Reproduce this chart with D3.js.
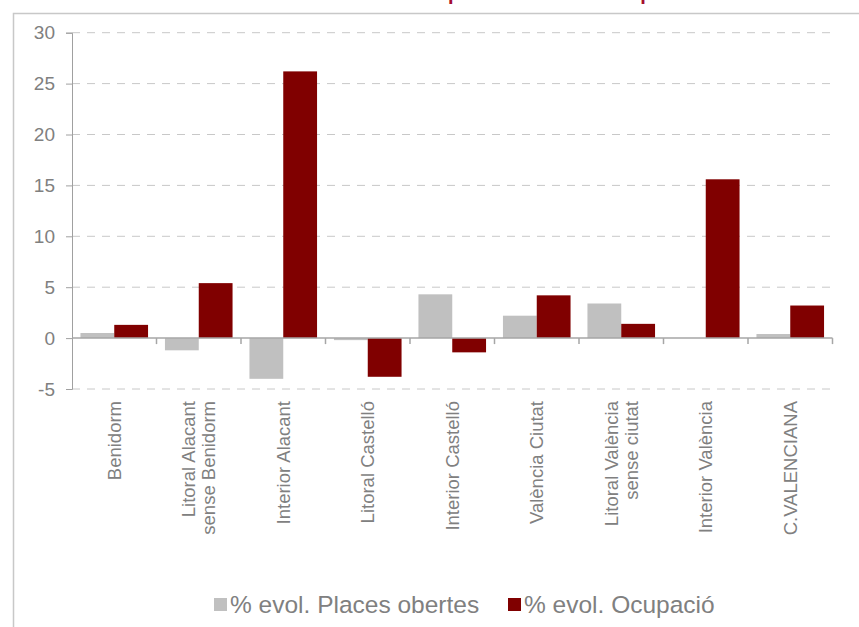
<!DOCTYPE html>
<html>
<head>
<meta charset="utf-8">
<script src="https://cdn.jsdelivr.net/npm/d3@7"></script>
<style>
  body { margin: 0; background: #fff; }
  svg { display: block; font-family: "Liberation Sans", Arial, sans-serif; }
</style>
</head>
<body>
<div id="chart"></div>
<script>
let categories = [
  ["Benidorm"],
  ["Litoral Alacant", "sense Benidorm"],
  ["Interior Alacant"],
  ["Litoral Castelló"],
  ["Interior Castelló"],
  ["València Ciutat"],
  ["Litoral València", "sense ciutat"],
  ["Interior València"],
  ["C.VALENCIANA"]
]
let places = [0.5, -1.2, -4.0, -0.2, 4.3, 2.2, 3.4, 0.0, 0.4]
let ocupacio = [1.3, 5.4, 26.2, -3.8, -1.4, 4.2, 1.4, 15.6, 3.2]
let yTicks = [-5, 0, 5, 10, 15, 20, 25, 30]
let seriesNames = ["% evol. Places obertes", "% evol. Ocupació"]
let seriesColors = ["#c0c0c0", "#800000"]
let titleText = "Evolució places obertes i ocupació"

const width = 859, height = 627
const plotLeft = 72, plotRight = 832.5, plotTop = 32.7, plotBottom = 389

let svg = d3.select('#chart')
  .append('svg')
    .attr('width', width)
    .attr('height', height)

// frame
svg.append('rect')
  .attr('x', 13.5).attr('y', 13.5)
  .attr('width', 900).attr('height', 700)
  .attr('fill', 'none')
  .attr('stroke', '#c8c8c8')
  .attr('stroke-width', 1.5)

// title, cut off above the frame like in the source image
let title = svg.append('text')
  .attr('x', 0).attr('y', -0.5)
  .attr('fill', '#a50f2d')
  .style('font-size', '20px')
  .style('font-weight', 'bold')
  .text(titleText)
let pIdx = titleText.indexOf('places')
let pX = title.node().getStartPositionOfChar(pIdx).x
title.attr('x', 448 - pX)

let keys = categories.map(d => d.join(' '))

let x = d3.scaleBand()
  .domain(keys)
  .range([plotLeft, plotRight])

let xInner = d3.scaleBand()
  .domain([0, 1])
  .range([0, x.bandwidth()])
  .paddingOuter(0.25)

let y = d3.scaleLinear()
  .domain([-5, 30])
  .range([plotBottom, plotTop])

// gridlines
svg.append('g')
  .selectAll('line')
  .data(yTicks.filter(d => d !== 0))
  .enter()
  .append('line')
    .attr('x1', plotLeft).attr('x2', plotRight)
    .attr('y1', d => y(d)).attr('y2', d => y(d))
    .attr('stroke', '#c8c8c8')
    .attr('stroke-dasharray', '8,7')

// y axis
let yAxis = svg.append('g')
  .attr('transform', `translate(${plotLeft},0)`)
  .call(d3.axisLeft(y).tickValues(yTicks).tickSize(6).tickPadding(11).tickFormat(d => String(d)))
yAxis.select('.domain').attr('stroke', '#a0a0a0')
yAxis.selectAll('.tick line').attr('stroke', '#a0a0a0')
yAxis.selectAll('.tick text')
  .attr('fill', '#808080')
  .style('font-size', '19px')
  .style('font-family', '"Liberation Sans", Arial, sans-serif')

// bars
let rows = keys.map((k, i) => ({ key: k, values: [places[i], ocupacio[i]] }))
let groups = svg.append('g')
  .selectAll('g')
  .data(rows)
  .enter()
  .append('g')
    .attr('transform', d => `translate(${x(d.key)},0)`)

groups.selectAll('rect')
  .data(d => d.values.map((v, j) => ({ v: v, j: j })))
  .enter()
  .append('rect')
    .attr('x', d => xInner(d.j))
    .attr('width', xInner.bandwidth())
    .attr('y', d => y(Math.max(0, d.v)))
    .attr('height', d => Math.abs(y(d.v) - y(0)))
    .attr('fill', d => seriesColors[d.j])

// x axis
let xAxis = svg.append('g')
  .attr('transform', `translate(0,${y(0)})`)
xAxis.append('line')
  .attr('x1', plotLeft).attr('x2', plotRight)
  .attr('stroke', '#a6a6a6')
  .attr('stroke-width', 1.5)
xAxis.selectAll('.xtick')
  .data(keys.map(k => x(k) + x.bandwidth()))
  .enter()
  .append('line')
    .attr('x1', d => d).attr('x2', d => d)
    .attr('y1', 0).attr('y2', 6)
    .attr('stroke', '#a6a6a6')
    .attr('stroke-width', 1.5)

// category labels
let labels = svg.append('g')
  .selectAll('text')
  .data(categories)
  .enter()
  .append('text')
    .attr('transform', d => `translate(${x(d.join(' ')) + x.bandwidth() / 2},401) rotate(-90)`)
    .attr('text-anchor', 'end')
    .attr('fill', '#808080')
    .style('font-size', '18.5px')

labels.selectAll('tspan')
  .data(d => d.map((t, i) => ({ t: t, i: i, n: d.length })))
  .enter()
  .append('tspan')
    .attr('x', 0)
    .attr('dy', d => d.i === 0 ? (0.35 - 0.55 * (d.n - 1)) + 'em' : '1.1em')
    .text(d => d.t)

// legend
let legendX = [214, 508]
let legend = svg.selectAll('.legend')
  .data(seriesNames)
  .enter()
  .append('g')
    .attr('class', 'legend')
    .attr('transform', (d, i) => `translate(${legendX[i]},598)`)

legend.append('rect')
  .attr('width', 13)
  .attr('height', 13)
  .attr('fill', (d, i) => seriesColors[i])

legend.append('text')
  .attr('x', 16)
  .attr('y', 15)
  .attr('fill', '#808080')
  .style('font-size', '24.5px')
  .text(d => d)
</script>
</body>
</html>
